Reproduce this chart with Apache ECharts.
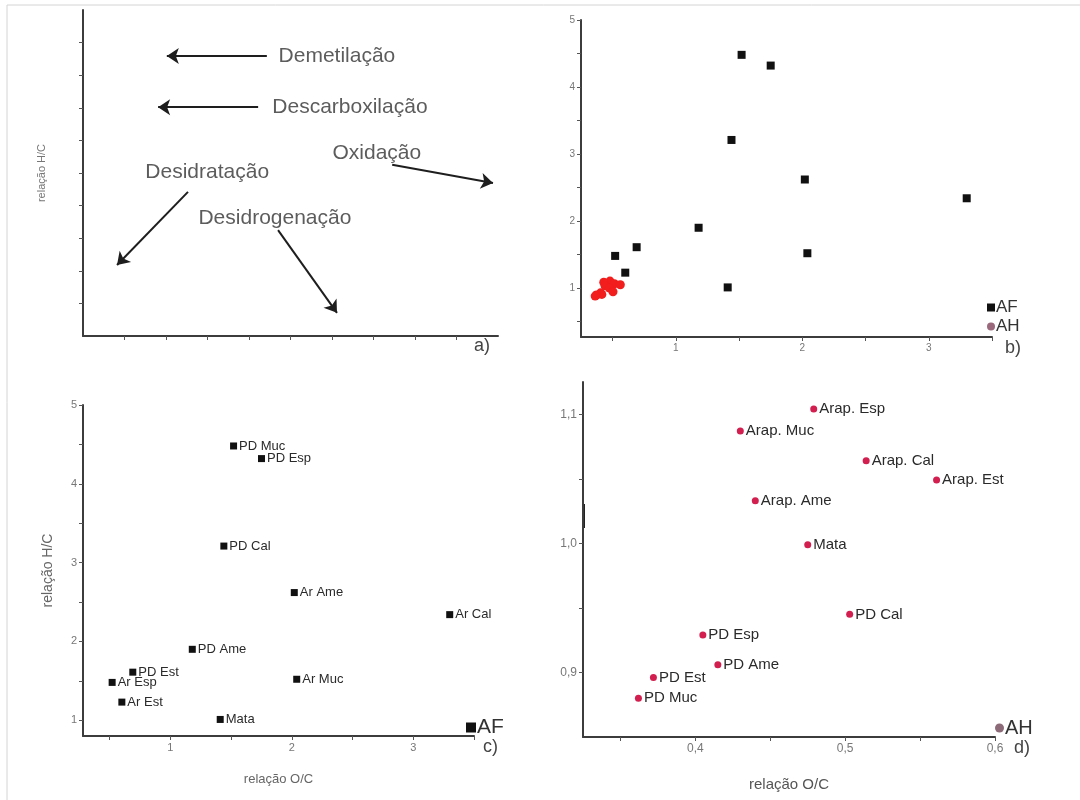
<!DOCTYPE html>
<html>
<head>
<meta charset="utf-8">
<title>Diagrama de van Krevelen - AF / AH</title>
<script src="https://cdn.jsdelivr.net/npm/echarts@6/dist/echarts.min.js"></script>
<style>
  html, body { margin: 0; padding: 0; background: #fff; }
  #chart { width: 1080px; height: 800px; }
</style>
</head>
<body>
<div id="chart"></div>
<script>
// a) processos (coordenadas no espaço esquemático 0..10)
const processNames = ['Demetilação', 'Descarboxilação', 'Oxidação', 'Desidratação', 'Desidrogenação'];
const processTextX = [4.70, 4.55, 6.00, 1.49, 2.77];
const processTextY = [8.59, 7.02, 5.61, 5.03, 3.62];
const arrowFrom = [[4.43, 8.59], [4.22, 7.02], [7.45, 5.25], [2.53, 4.42], [4.70, 3.25]];
const arrowTo = [[2.02, 8.59], [1.81, 7.02], [9.88, 4.69], [0.82, 2.18], [6.12, 0.71]];
const schemeTicks = [1, 2, 3, 4, 5, 6, 7, 8, 9];

// ácidos fúlvicos (AF)
const afNames = ['PD Muc', 'PD Esp', 'PD Cal', 'Ar Ame', 'Ar Cal', 'PD Ame', 'PD Est', 'Ar Esp', 'Ar Est', 'Ar Muc', 'Mata'];
const afOC = [1.52, 1.75, 1.44, 2.02, 3.30, 1.18, 0.69, 0.52, 0.60, 2.04, 1.41];
const afHC = [4.48, 4.32, 3.21, 2.62, 2.34, 1.90, 1.61, 1.48, 1.23, 1.52, 1.01];

// ácidos húmicos (AH)
const ahNames = ['Arap. Esp', 'Arap. Muc', 'Arap. Cal', 'Arap. Est', 'Arap. Ame', 'Mata', 'PD Cal', 'PD Esp', 'PD Ame', 'PD Est', 'PD Muc'];
const ahOC = [0.479, 0.430, 0.514, 0.561, 0.440, 0.475, 0.503, 0.405, 0.415, 0.372, 0.362];
const ahHC = [1.104, 1.087, 1.064, 1.049, 1.033, 0.999, 0.945, 0.929, 0.906, 0.896, 0.880];

// marcas dos eixos
const bxLabels = [1, 2, 3];
const bxTicks = [0.5, 1, 1.5, 2, 2.5, 3, 3.5];
const byLabels = [1, 2, 3, 4, 5];
const byTicks = [0.5, 1, 1.5, 2, 2.5, 3, 3.5, 4, 4.5, 5];
const cxLabels = [1, 2, 3];
const cxTicks = [0.5, 1, 1.5, 2, 2.5, 3, 3.5];
const cyLabels = [1, 2, 3, 4, 5];
const cyTicks = [1, 1.5, 2, 2.5, 3, 3.5, 4, 4.5, 5];
const dxLabels = [0.4, 0.5, 0.6];
const dxTicks = [0.35, 0.4, 0.45, 0.5, 0.55, 0.6];
const dyLabels = [0.9, 1.0, 1.1];
const dyTicks = [0.9, 0.95, 1.0, 1.05, 1.1];

const FONT = 'Liberation Sans, Arial, sans-serif';
const AXIS_COLOR = '#3c3c3c';

const zip = (names, xs, ys) => names.map((n, i) => ({ name: n, value: [xs[i], ys[i]] }));

const baseAxis = (gridIndex, min, max, labels, ticks, opts) => Object.assign({
  type: 'value',
  gridIndex: gridIndex,
  min: min,
  max: max,
  splitLine: { show: false },
  axisLine: { show: true, onZero: false, lineStyle: { color: AXIS_COLOR, width: 2 } },
  axisTick: { show: true, inside: false, length: 4, customValues: ticks, lineStyle: { color: '#555', width: 1 } },
  axisLabel: { show: labels.length > 0, customValues: labels, color: '#777', fontSize: 10, fontFamily: FONT, margin: 6 },
  nameTextStyle: { fontFamily: FONT, color: '#666' }
}, opts || {});

const commaFmt = v => v.toFixed(1).replace('.', ',');

const chart = echarts.init(document.getElementById('chart'));

const option = {
  animation: false,
  backgroundColor: '#fff',
  textStyle: { fontFamily: FONT },
  grid: [
    { left: 83, top: 10, width: 415, height: 326 },
    { left: 581, top: 20, width: 411, height: 317 },
    { left: 83, top: 405, width: 391, height: 331 },
    { left: 583, top: 382, width: 412, height: 355 }
  ],
  xAxis: [
    baseAxis(0, 0, 10, [], schemeTicks),
    baseAxis(1, 0.25, 3.5, bxLabels, bxTicks),
    baseAxis(2, 0.28, 3.5, cxLabels, cxTicks, {
      name: 'relação O/C', nameLocation: 'middle', nameGap: 37,
      nameTextStyle: { fontFamily: FONT, color: '#666', fontSize: 13 }
    }),
    baseAxis(3, 0.325, 0.6, dxLabels, dxTicks, {
      name: 'relação O/C', nameLocation: 'middle', nameGap: 40,
      nameTextStyle: { fontFamily: FONT, color: '#555', fontSize: 15 }
    })
  ],
  yAxis: [
    baseAxis(0, 0, 10, [], schemeTicks, {
      name: 'relação H/C', nameLocation: 'middle', nameGap: 36,
      nameTextStyle: { fontFamily: FONT, color: '#777', fontSize: 11 }
    }),
    baseAxis(1, 0.27, 5, byLabels, byTicks),
    baseAxis(2, 0.8, 5, cyLabels, cyTicks, {
      name: 'relação H/C', nameLocation: 'middle', nameGap: 28,
      nameTextStyle: { fontFamily: FONT, color: '#666', fontSize: 14 }
    }),
    baseAxis(3, 0.85, 1.125, dyLabels, dyTicks)
  ],
  legend: [
    {
      left: 987, top: 299, orient: 'vertical', padding: 0, itemGap: 2,
      itemWidth: 8, itemHeight: 8, selectedMode: false,
      textStyle: { fontSize: 17, color: '#333', fontFamily: FONT, padding: [0, 0, 0, -4] },
      data: [
        { name: 'AF', icon: 'rect', itemStyle: { color: '#111' } },
        { name: 'AH', icon: 'circle', itemStyle: { color: '#9a6a7c' } }
      ]
    },
    {
      left: 466, top: 717, padding: 0, itemWidth: 10, itemHeight: 10, selectedMode: false,
      textStyle: { fontSize: 21, color: '#333', fontFamily: FONT, padding: [0, 0, 0, -4] },
      data: [{ name: 'AF', icon: 'rect', itemStyle: { color: '#111' } }]
    },
    {
      left: 995, top: 718, padding: 0, itemWidth: 9, itemHeight: 9, selectedMode: false,
      textStyle: { fontSize: 20, color: '#333', fontFamily: FONT, padding: [0, 0, 0, -4] },
      data: [{ name: 'AH', icon: 'circle', itemStyle: { color: '#8c6a78' } }]
    }
  ],
  series: [
    // a) setas dos processos
    {
      type: 'lines',
      coordinateSystem: 'cartesian2d',
      xAxisIndex: 0,
      yAxisIndex: 0,
      symbol: ['none', 'arrow'],
      symbolSize: 12,
      lineStyle: { color: '#1e1e1e', width: 2, opacity: 1, curveness: 0 },
      data: arrowFrom.map((p, i) => ({ coords: [p, arrowTo[i]] }))
    },
    {
      type: 'scatter',
      xAxisIndex: 0,
      yAxisIndex: 0,
      symbolSize: 1,
      itemStyle: { color: 'rgba(0,0,0,0)' },
      label: {
        show: true, position: 'right', distance: 0,
        formatter: p => p.name, fontSize: 21, color: '#333', fontFamily: FONT
      },
      data: zip(processNames, processTextX, processTextY)
    },
    // b) AF + AH juntos
    {
      name: 'AF',
      type: 'scatter',
      xAxisIndex: 1,
      yAxisIndex: 1,
      symbol: 'rect',
      symbolSize: 8,
      itemStyle: { color: '#111', opacity: 1 },
      data: zip(afNames, afOC, afHC)
    },
    {
      name: 'AH',
      type: 'scatter',
      xAxisIndex: 1,
      yAxisIndex: 1,
      symbol: 'circle',
      symbolSize: 9,
      itemStyle: { color: '#f21d1d', opacity: 1 },
      data: zip(ahNames, ahOC, ahHC)
    },
    // c) AF com rótulos
    {
      name: 'AF',
      type: 'scatter',
      xAxisIndex: 2,
      yAxisIndex: 2,
      symbol: 'rect',
      symbolSize: 7,
      itemStyle: { color: '#111', opacity: 1 },
      label: {
        show: true, position: 'right', distance: 2,
        formatter: p => p.name, fontSize: 13, color: '#2a2a2a', fontFamily: FONT
      },
      data: zip(afNames, afOC, afHC)
    },
    // d) AH com rótulos
    {
      name: 'AH',
      type: 'scatter',
      xAxisIndex: 3,
      yAxisIndex: 3,
      symbol: 'circle',
      symbolSize: 7,
      itemStyle: { color: '#d21f4f', opacity: 1 },
      label: {
        show: true, position: 'right', distance: 2,
        formatter: p => p.name, fontSize: 15, color: '#2a2a2a', fontFamily: FONT
      },
      data: zip(ahNames, ahOC, ahHC)
    }
  ],
  graphic: [
    { type: 'line', shape: { x1: 7, y1: 5, x2: 1080, y2: 5 }, style: { stroke: '#d4d4d4', lineWidth: 1 } },
    { type: 'line', shape: { x1: 7, y1: 5, x2: 7, y2: 800 }, style: { stroke: '#d4d4d4', lineWidth: 1 } },
    { type: 'rect', shape: { x: 582, y: 504, width: 3, height: 24 }, style: { fill: '#222' } },
    { type: 'text', left: 474, top: 337, style: { text: 'a)', fill: '#444', font: '18px ' + FONT } },
    { type: 'text', left: 1005, top: 339, style: { text: 'b)', fill: '#444', font: '18px ' + FONT } },
    { type: 'text', left: 483, top: 738, style: { text: 'c)', fill: '#444', font: '18px ' + FONT } },
    { type: 'text', left: 1014, top: 739, style: { text: 'd)', fill: '#444', font: '18px ' + FONT } }
  ]
};

// rótulos com vírgula decimal no painel d
option.xAxis[3].axisLabel.formatter = commaFmt;
option.yAxis[3].axisLabel.formatter = commaFmt;
option.xAxis[3].axisLabel.fontSize = 12;
option.yAxis[3].axisLabel.fontSize = 12;
option.xAxis[2].axisLabel.fontSize = 11;
option.yAxis[2].axisLabel.fontSize = 11;

chart.setOption(option);
</script>
</body>
</html>
